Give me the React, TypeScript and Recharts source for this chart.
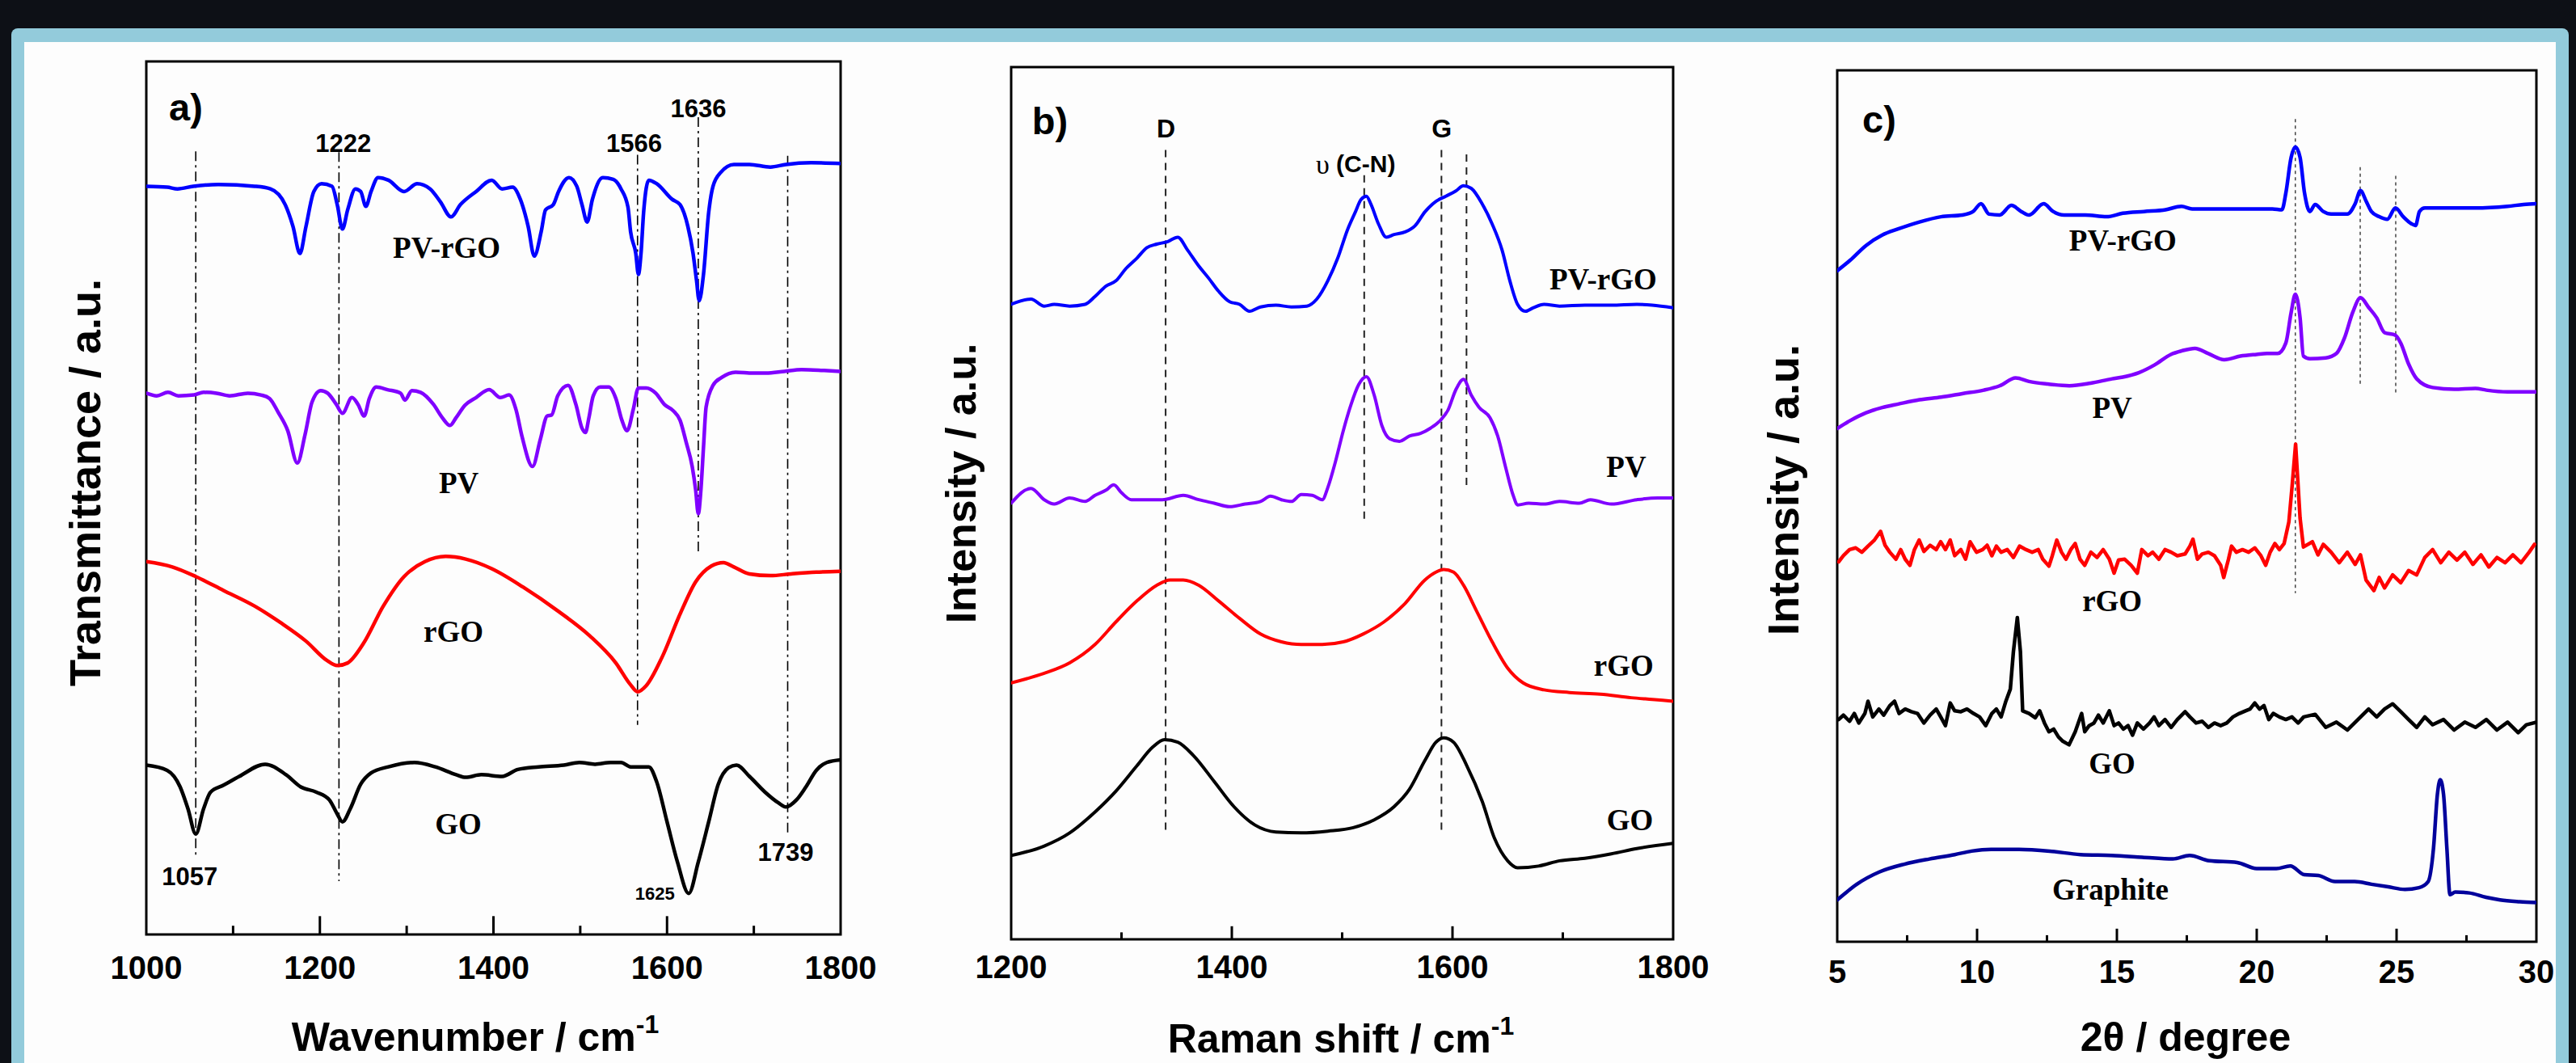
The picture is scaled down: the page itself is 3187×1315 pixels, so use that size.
import React from 'react';
import { ComposedChart, Line, XAxis, YAxis, ReferenceLine, ReferenceArea, Scatter } from 'recharts';

type P = [number, number];

const SANS = "'Liberation Sans', Arial, Helvetica, sans-serif";
const SERIF = "'Liberation Serif', 'Times New Roman', serif";

// ---------------- Panel a : FTIR (wavenumber, transmittance a.u.) ----------------
const ftirTicks = [1000, 1200, 1400, 1600, 1800];
const ftirMinor = [1100, 1300, 1500, 1700];
const ftirPvRgo: P[] = [[1000,85.7],[1024,85.6],[1036,85.4],[1054,85.7],[1083,85.9],[1125,85.7],[1143,85.4],[1160,83.6],[1169,81.1],[1177,78.0],[1184,81.1],[1193,85.1],[1202,86.0],[1214,85.7],[1220,83.6],[1226,80.8],[1232,83.0],[1241,85.4],[1247,85.1],[1253,83.4],[1259,85.1],[1267,86.7],[1279,86.4],[1297,85.1],[1312,86.0],[1327,85.4],[1339,83.9],[1351,82.2],[1362,83.6],[1380,85.1],[1398,86.4],[1410,85.4],[1422,85.6],[1431,84.2],[1440,81.1],[1447,77.7],[1455,80.5],[1460,83.0],[1469,83.6],[1475,85.1],[1487,86.7],[1496,85.7],[1502,83.6],[1508,81.6],[1514,84.2],[1526,86.7],[1538,86.5],[1547,85.4],[1555,83.3],[1558,80.5],[1564,78.0],[1567,75.6],[1570,78.0],[1573,82.7],[1579,86.4],[1588,86.0],[1606,84.2],[1615,83.6],[1624,81.1],[1630,78.0],[1634,74.9],[1637,72.6],[1642,75.6],[1648,82.7],[1653,85.7],[1662,87.3],[1677,88.2],[1695,88.2],[1719,87.9],[1737,88.2],[1766,88.4],[1800,88.3]];
const ftirPv: P[] = [[1000,62.0],[1012,61.7],[1025,62.1],[1037,61.7],[1055,61.8],[1066,62.1],[1081,62.0],[1096,61.7],[1117,62.0],[1132,61.8],[1142,61.4],[1152,59.8],[1163,57.7],[1174,54.0],[1183,57.3],[1191,61.0],[1201,62.3],[1209,62.0],[1219,60.7],[1226,59.7],[1237,61.5],[1244,60.7],[1251,59.4],[1257,61.4],[1265,62.7],[1278,62.4],[1293,62.0],[1298,61.2],[1306,62.3],[1316,62.1],[1331,60.7],[1341,59.2],[1350,58.3],[1357,59.2],[1367,60.6],[1380,61.5],[1395,62.4],[1408,61.5],[1418,61.8],[1426,60.1],[1433,57.0],[1445,53.6],[1454,56.7],[1462,59.4],[1467,59.5],[1474,61.7],[1486,62.9],[1495,60.7],[1502,58.0],[1506,57.5],[1510,59.2],[1515,61.7],[1523,62.7],[1533,62.7],[1541,61.4],[1548,58.9],[1554,57.7],[1561,60.1],[1567,62.6],[1576,62.6],[1587,62.0],[1597,60.7],[1607,60.0],[1615,58.9],[1622,56.4],[1629,53.6],[1633,50.9],[1636,48.2],[1639,50.9],[1642,55.8],[1645,60.4],[1653,62.9],[1663,63.8],[1679,64.4],[1699,64.3],[1714,64.3],[1735,64.5],[1755,64.7],[1781,64.6],[1800,64.5]];
const ftirRgo: P[] = [[1000,42.7],[1030,42.1],[1057,41.0],[1089,39.4],[1125,37.6],[1155,35.7],[1184,33.6],[1208,31.4],[1220,30.8],[1232,31.1],[1250,33.3],[1273,37.6],[1297,41.0],[1321,42.7],[1345,43.3],[1368,43.0],[1398,41.9],[1434,39.8],[1475,37.0],[1511,34.2],[1541,31.1],[1558,28.6],[1566,27.8],[1576,28.5],[1594,31.7],[1615,36.7],[1633,40.4],[1651,42.2],[1665,42.6],[1677,42.1],[1695,41.3],[1719,41.1],[1743,41.3],[1772,41.5],[1800,41.6]];
const ftirGo: P[] = [[1000,19.4],[1024,18.8],[1039,16.9],[1048,14.4],[1057,11.5],[1066,14.4],[1074,16.3],[1089,17.1],[1107,18.1],[1137,19.5],[1161,18.3],[1178,16.9],[1196,16.3],[1211,15.4],[1220,13.8],[1226,12.9],[1235,14.4],[1247,17.2],[1259,18.5],[1279,19.2],[1309,19.7],[1333,19.2],[1357,18.3],[1368,18.0],[1386,18.3],[1410,18.1],[1428,18.9],[1452,19.2],[1481,19.4],[1499,19.7],[1517,19.5],[1535,19.7],[1547,19.7],[1558,19.2],[1570,19.2],[1579,19.2],[1588,17.5],[1600,12.9],[1612,8.3],[1625,4.7],[1636,8.3],[1648,12.9],[1659,17.2],[1671,19.1],[1680,19.4],[1695,18.1],[1713,16.3],[1728,15.1],[1737,14.6],[1749,15.4],[1760,16.9],[1772,18.8],[1784,19.7],[1800,20.0]];
// guide lines: [x, top, bottom]
const ftirGuides: [number, number, number][] = [[1057,89.7,8.7],[1222,89.6,6.1],[1566,89.3,24.0],[1636,93.6,43.8],[1739,89.2,11.7]];
const ftirLabels = [
  { x: 1045.6, v: 94.8, t: 'a)', kind: 'panel' },
  { x: 1227, v: 90.6, t: '1222', kind: 'num' },
  { x: 1562, v: 90.6, t: '1566', kind: 'num' },
  { x: 1636, v: 94.6, t: '1636', kind: 'num' },
  { x: 1050, v: 6.6, t: '1057', kind: 'num' },
  { x: 1736.6, v: 9.4, t: '1739', kind: 'num' },
  { x: 1586, v: 4.7, t: '1625', kind: 'small' },
  { x: 1346, v: 78.7, t: 'PV-rGO', kind: 'name' },
  { x: 1360, v: 51.7, t: 'PV', kind: 'name' },
  { x: 1354, v: 34.7, t: 'rGO', kind: 'name' },
  { x: 1359.5, v: 12.6, t: 'GO', kind: 'name' },
];

// ---------------- Panel b : Raman ----------------
const ramanTicks = [1200, 1400, 1600, 1800];
const ramanMinor = [1300, 1500, 1700];
const ramanPvRgo: P[] = [[1200,72.8],[1218,73.4],[1230,72.6],[1239,72.8],[1253,72.6],[1267,72.8],[1276,73.7],[1286,74.9],[1295,75.5],[1304,76.9],[1314,78.1],[1323,79.3],[1332,79.7],[1342,80.0],[1351,80.5],[1360,79.0],[1370,77.2],[1379,75.8],[1388,74.3],[1398,73.1],[1407,72.8],[1416,72.0],[1426,72.5],[1440,72.7],[1454,72.5],[1468,72.6],[1477,73.4],[1487,75.5],[1496,78.1],[1505,81.4],[1512,83.4],[1517,84.8],[1522,85.2],[1526,84.3],[1533,82.0],[1540,80.5],[1547,80.8],[1557,81.1],[1566,81.8],[1575,83.4],[1585,84.6],[1594,85.2],[1603,85.8],[1610,86.4],[1617,86.1],[1627,84.3],[1636,82.0],[1645,79.0],[1652,75.5],[1659,72.8],[1666,72.0],[1673,72.4],[1683,72.8],[1697,72.6],[1720,72.7],[1744,72.7],[1767,72.8],[1781,72.7],[1800,72.4]];
const ramanPv: P[] = [[1200,50.0],[1218,51.7],[1230,50.4],[1239,49.9],[1253,50.6],[1267,50.2],[1276,50.9],[1286,51.5],[1293,52.1],[1300,51.2],[1309,50.4],[1323,50.4],[1337,50.4],[1356,50.9],[1370,50.4],[1384,50.0],[1398,49.6],[1412,49.9],[1426,50.2],[1435,50.8],[1445,50.4],[1454,50.2],[1463,51.0],[1473,50.9],[1482,50.4],[1487,51.8],[1494,54.8],[1501,58.3],[1508,61.3],[1515,63.6],[1522,64.5],[1529,62.4],[1536,58.9],[1543,57.4],[1552,57.1],[1561,57.7],[1571,58.0],[1580,58.6],[1589,59.5],[1596,60.7],[1603,63.0],[1610,64.2],[1617,62.4],[1624,61.0],[1634,59.8],[1641,57.7],[1648,54.2],[1655,50.9],[1659,49.8],[1669,50.0],[1683,49.9],[1697,50.2],[1715,50.0],[1725,50.4],[1744,49.9],[1767,50.4],[1786,50.6],[1800,50.6]];
const ramanRgo: P[] = [[1200,29.4],[1230,30.5],[1253,31.7],[1276,33.8],[1295,36.4],[1314,38.8],[1332,40.6],[1344,41.2],[1356,41.2],[1370,40.6],[1388,38.8],[1407,36.8],[1426,35.0],[1445,34.1],[1463,33.8],[1482,33.8],[1501,34.1],[1519,35.0],[1538,36.4],[1557,38.5],[1575,41.2],[1585,42.1],[1592,42.4],[1601,42.1],[1610,40.6],[1622,37.6],[1636,34.1],[1650,31.1],[1664,29.4],[1683,28.6],[1706,28.3],[1734,28.1],[1762,27.7],[1781,27.5],[1800,27.3]];
const ramanGo: P[] = [[1200,9.6],[1230,10.7],[1253,12.2],[1276,14.6],[1295,17.0],[1314,19.9],[1328,22.0],[1339,22.9],[1351,22.6],[1365,21.1],[1384,18.1],[1402,15.2],[1421,13.1],[1440,12.3],[1463,12.2],[1487,12.4],[1510,12.8],[1529,13.7],[1547,15.2],[1561,17.2],[1575,20.5],[1585,22.6],[1592,23.1],[1601,22.6],[1613,19.9],[1627,15.8],[1638,11.6],[1650,9.0],[1659,8.2],[1678,8.4],[1697,9.0],[1720,9.3],[1744,9.8],[1767,10.4],[1800,11.0]];
const ramanGuides: [number, number, number][] = [[1340,90.5,11.9],[1590,90.5,12.2],[1520,87.6,47.7],[1612.7,90.0,51.8]];
const ramanLabels = [
  { x: 1235.2, v: 93.8, t: 'b)', kind: 'panel' },
  { x: 1340.3, v: 93.0, t: 'D', kind: 'peak' },
  { x: 1590.2, v: 93.0, t: 'G', kind: 'peak' },
  { x: 1512.2, v: 88.9, t: 'υ (C-N)', kind: 'cn' },
  { x: 1736.5, v: 75.7, t: 'PV-rGO', kind: 'name' },
  { x: 1757.5, v: 54.2, t: 'PV', kind: 'name' },
  { x: 1755.2, v: 31.4, t: 'rGO', kind: 'name' },
  { x: 1760.8, v: 13.7, t: 'GO', kind: 'name' },
];

// ---------------- Panel c : XRD ----------------
const xrdTicks = [5, 10, 15, 20, 25, 30];
const xrdMinor = [7.5, 12.5, 17.5, 22.5, 27.5];
const xrdPvRgo: P[] = [[5,77.0],[5.46,78.2],[6.03,79.9],[6.61,81.1],[7.18,81.8],[7.94,82.6],[8.71,83.2],[9.47,83.4],[9.86,83.8],[10.14,84.7],[10.43,83.5],[10.81,83.4],[11.23,84.5],[11.58,83.8],[11.86,83.4],[12.38,84.7],[12.72,83.8],[13.11,83.4],[13.87,83.4],[14.63,83.2],[15.21,83.6],[15.97,83.8],[16.74,84.0],[17.31,84.4],[17.69,84.1],[18.65,84.1],[19.60,84.1],[20.56,84.1],[20.90,84.0],[21.04,85.9],[21.23,90.0],[21.38,91.2],[21.55,90.0],[21.71,85.9],[21.90,83.8],[22.09,84.6],[22.38,83.8],[22.66,83.5],[23.24,83.5],[23.52,84.7],[23.71,86.2],[23.91,85.0],[24.10,83.8],[24.38,83.2],[24.67,82.9],[24.96,84.2],[25.24,83.2],[25.53,82.4],[25.68,82.2],[25.82,83.8],[26.01,84.2],[26.68,84.2],[27.82,84.2],[28.97,84.4],[29.54,84.6],[30,84.7]];
const xrdPv: P[] = [[5,58.9],[5.46,59.8],[6.03,60.7],[6.61,61.3],[7.18,61.7],[7.94,62.2],[8.71,62.5],[9.47,62.9],[10.24,63.3],[10.81,63.8],[11.38,64.7],[11.86,64.3],[12.53,64.0],[13.30,63.8],[14.06,64.1],[14.83,64.6],[15.21,64.8],[15.78,65.3],[16.35,66.2],[16.93,67.4],[17.31,67.8],[17.79,68.1],[18.27,67.5],[18.84,66.8],[19.41,67.2],[19.99,67.4],[20.37,67.5],[20.75,67.5],[21.04,68.7],[21.23,72.2],[21.38,74.3],[21.55,71.6],[21.67,67.2],[21.90,66.9],[22.47,67.0],[22.85,67.5],[23.14,69.3],[23.43,72.2],[23.71,73.9],[24.00,72.8],[24.29,71.6],[24.57,69.9],[24.96,69.6],[25.15,68.7],[25.43,66.3],[25.72,64.6],[26.29,63.6],[27.06,63.4],[27.82,63.5],[28.21,63.3],[28.97,63.1],[30,63.1]];
const xrdRgo: P[] = [[5.05,43.6],[5.22,44.3],[5.44,45.0],[5.66,45.2],[5.88,44.7],[6.10,45.4],[6.33,46.1],[6.55,47.1],[6.71,45.5],[6.88,44.7],[7.10,43.9],[7.27,45.0],[7.43,43.9],[7.60,43.2],[7.76,45.0],[7.93,46.1],[8.10,44.8],[8.32,45.5],[8.54,45.0],[8.70,45.9],[8.87,45.0],[9.04,46.1],[9.20,44.3],[9.42,45.0],[9.59,43.9],[9.75,45.9],[9.98,44.7],[10.20,45.0],[10.36,45.5],[10.53,44.3],[10.69,45.4],[10.86,44.7],[11.08,45.0],[11.30,44.1],[11.52,45.4],[11.75,45.0],[11.97,44.7],[12.19,45.0],[12.35,43.9],[12.57,43.1],[12.69,44.3],[12.85,46.1],[13.02,44.7],[13.18,43.9],[13.35,45.0],[13.51,45.7],[13.68,43.9],[13.85,43.2],[14.07,44.7],[14.29,44.1],[14.51,45.0],[14.73,43.9],[14.90,42.3],[15.06,43.8],[15.28,43.9],[15.51,43.2],[15.73,42.3],[15.89,45.0],[16.11,44.3],[16.28,44.7],[16.50,43.9],[16.72,45.0],[16.94,44.7],[17.16,44.3],[17.44,44.5],[17.61,45.4],[17.72,46.2],[17.88,43.9],[18.05,44.5],[18.27,44.7],[18.49,44.3],[18.71,43.2],[18.82,41.8],[18.99,43.9],[19.10,45.4],[19.27,44.7],[19.49,45.0],[19.71,44.7],[19.93,45.2],[20.15,44.3],[20.32,43.2],[20.48,44.7],[20.65,45.7],[20.81,45.0],[20.98,45.7],[21.15,48.2],[21.26,52.1],[21.39,57.1],[21.55,48.6],[21.67,45.3],[21.99,45.9],[22.19,44.4],[22.38,45.6],[22.66,44.7],[22.95,43.5],[23.24,44.7],[23.52,43.3],[23.71,44.4],[23.91,41.5],[24.19,40.3],[24.38,41.8],[24.57,40.6],[24.86,42.1],[25.15,41.2],[25.43,42.6],[25.72,42.1],[26.01,44.1],[26.29,45.0],[26.58,43.5],[26.87,44.7],[27.16,43.8],[27.44,44.7],[27.73,43.3],[28.02,44.4],[28.30,43.0],[28.59,44.1],[28.88,43.5],[29.16,44.4],[29.45,43.5],[29.74,44.7],[29.93,45.6]];
const xrdGo: P[] = [[5.05,25.5],[5.22,26.0],[5.44,25.3],[5.61,26.2],[5.77,25.1],[5.99,26.2],[6.10,27.6],[6.27,25.8],[6.49,26.7],[6.66,26.0],[6.88,27.1],[7.05,27.6],[7.21,26.2],[7.43,26.7],[7.65,26.4],[7.87,26.2],[8.10,25.1],[8.32,26.0],[8.54,26.7],[8.70,25.8],[8.87,24.8],[9.04,27.4],[9.20,26.5],[9.42,26.4],[9.64,26.7],[9.87,26.2],[10.09,25.8],[10.31,24.8],[10.53,26.2],[10.69,26.7],[10.86,25.8],[11.03,27.6],[11.19,29.0],[11.30,33.3],[11.44,37.2],[11.55,33.3],[11.63,26.5],[11.86,26.2],[12.08,25.7],[12.24,26.5],[12.41,25.1],[12.57,24.1],[12.74,24.4],[12.91,23.5],[13.07,23.0],[13.29,22.6],[13.51,24.1],[13.74,26.2],[13.85,24.1],[14.01,24.8],[14.18,25.1],[14.34,26.0],[14.51,25.1],[14.73,26.5],[14.90,24.8],[15.06,25.1],[15.23,24.4],[15.40,24.8],[15.56,23.7],[15.73,25.1],[15.95,24.4],[16.17,25.1],[16.33,25.8],[16.50,24.8],[16.72,25.5],[16.94,24.6],[17.16,25.5],[17.44,26.4],[17.61,25.8],[17.83,25.1],[18.05,25.3],[18.27,24.6],[18.49,25.1],[18.71,24.8],[18.93,25.1],[19.15,25.8],[19.38,26.2],[19.60,26.5],[19.76,26.7],[19.93,27.4],[20.10,26.7],[20.26,27.1],[20.43,25.5],[20.59,26.2],[20.81,25.8],[21.04,25.5],[21.26,25.8],[21.48,25.1],[21.68,25.8],[22.09,26.1],[22.47,24.6],[22.85,25.2],[23.24,24.3],[23.62,25.5],[24.00,26.7],[24.29,25.8],[24.57,26.7],[24.86,27.3],[25.15,26.4],[25.43,25.5],[25.72,24.6],[26.01,25.8],[26.29,24.9],[26.68,25.5],[27.06,24.3],[27.44,25.2],[27.82,24.6],[28.21,25.5],[28.59,24.3],[28.97,25.2],[29.35,24.0],[29.64,24.9],[30,25.2]];
const xrdGraphite: P[] = [[5,4.8],[5.7,6.6],[6.5,8.0],[7.4,8.9],[8.3,9.5],[9.2,10.0],[9.8,10.4],[10.5,10.6],[11.5,10.6],[12.6,10.4],[13.7,10.0],[14.8,9.9],[15.9,9.7],[17.0,9.5],[17.6,9.9],[18.3,9.3],[19.3,9.1],[20.0,8.4],[20.7,8.4],[21.2,8.7],[21.7,7.7],[22.2,7.6],[22.8,6.9],[23.5,6.9],[24.1,6.6],[24.7,6.3],[25.3,6.0],[25.8,6.2],[26.13,6.9],[26.32,10.7],[26.46,16.9],[26.56,18.6],[26.68,16.9],[26.80,10.7],[26.91,5.4],[27.1,5.7],[27.6,5.6],[28.2,5.1],[28.7,4.8],[29.4,4.6],[30,4.5]];
const xrdGuides: [number, number, number][] = [[21.38,94.4,40.0],[23.7,88.9,63.8],[24.97,87.9,62.9]];
const xrdLabels = [
  { x: 6.5, v: 94.4, t: 'c)', kind: 'panel' },
  { x: 15.21, v: 80.5, t: 'PV-rGO', kind: 'name' },
  { x: 14.83, v: 61.3, t: 'PV', kind: 'name' },
  { x: 14.83, v: 39.1, t: 'rGO', kind: 'name' },
  { x: 14.83, v: 20.5, t: 'GO', kind: 'name' },
  { x: 14.77, v: 6.0, t: 'Graphite', kind: 'name' },
];

const toObj = (a: P[]) => a.map(([x, v]) => ({ x, v }));

const LABEL_STYLE: Record<string, { f: string; s: number }> = {
  panel: { f: SANS, s: 47 },
  num: { f: SANS, s: 31 },
  small: { f: SANS, s: 22 },
  name: { f: SERIF, s: 37 },
  peak: { f: SANS, s: 32 },
  cn: { f: SANS, s: 30 },
};

const LabelShape = (props: any) => {
  const { cx, cy, payload } = props;
  if (cx == null || cy == null || !payload) return <g />;
  const st = LABEL_STYLE[payload.kind] || LABEL_STYLE.num;
  if (payload.kind === 'cn') {
    return (
      <text x={cx} y={cy} textAnchor="middle" dominantBaseline="central" fontFamily={SANS} fontSize={st.s} fontWeight="bold" fill="#000">
        <tspan fontFamily={SERIF} fontWeight="normal" fontSize={st.s + 4}>υ</tspan> (C-N)
      </text>
    );
  }
  return (
    <text x={cx} y={cy} textAnchor="middle" dominantBaseline="central" fontFamily={st.f} fontSize={st.s} fontWeight="bold" fill="#000">
      {payload.t}
    </text>
  );
};

type Series = { data: P[]; color: string; width: number; curve: 'monotone' | 'linear' };
type PanelCfg = {
  fx: number; fy: number; fw: number; fh: number;
  domain: [number, number]; ticks: number[]; minor: number[];
  majorLen: number; minorLen: number; tickMargin: number;
  series: Series[]; guides: [number, number, number][];
  guideStyle: { stroke: string; dash: string; width: number };
  labels: { x: number; v: number; t: string; kind: string }[];
};

const panelA: PanelCfg = {
  fx: 181, fy: 76, fw: 859, fh: 1080, domain: [1000, 1800], ticks: ftirTicks, minor: ftirMinor,
  majorLen: 2.1, minorLen: 1.0, tickMargin: 27,
  series: [
    { data: ftirPvRgo, color: '#0000ff', width: 4.5, curve: 'monotone' },
    { data: ftirPv, color: '#8000ff', width: 4.5, curve: 'monotone' },
    { data: ftirRgo, color: '#ff0000', width: 4.5, curve: 'monotone' },
    { data: ftirGo, color: '#000000', width: 4.5, curve: 'monotone' },
  ],
  guides: ftirGuides, guideStyle: { stroke: '#000', dash: '12 5 3 5', width: 1.6 },
  labels: ftirLabels,
};
const panelB: PanelCfg = {
  fx: 1251, fy: 83, fw: 819, fh: 1079, domain: [1200, 1800], ticks: ramanTicks, minor: ramanMinor,
  majorLen: 1.5, minorLen: 0.8, tickMargin: 20,
  series: [
    { data: ramanPvRgo, color: '#0000ff', width: 4, curve: 'monotone' },
    { data: ramanPv, color: '#8000ff', width: 4, curve: 'monotone' },
    { data: ramanRgo, color: '#ff0000', width: 4, curve: 'monotone' },
    { data: ramanGo, color: '#000000', width: 4, curve: 'monotone' },
  ],
  guides: ramanGuides, guideStyle: { stroke: '#222', dash: '9 7', width: 2 },
  labels: ramanLabels,
};
const panelC: PanelCfg = {
  fx: 2273, fy: 87, fw: 865, fh: 1078, domain: [5, 30], ticks: xrdTicks, minor: xrdMinor,
  majorLen: 1.5, minorLen: 0.75, tickMargin: 23,
  series: [
    { data: xrdPvRgo, color: '#0000ff', width: 4.5, curve: 'monotone' },
    { data: xrdPv, color: '#8000ff', width: 4.5, curve: 'monotone' },
    { data: xrdRgo, color: '#ff0000', width: 4.5, curve: 'linear' },
    { data: xrdGo, color: '#000000', width: 4.5, curve: 'linear' },
    { data: xrdGraphite, color: '#00009c', width: 4.5, curve: 'monotone' },
  ],
  guides: xrdGuides, guideStyle: { stroke: '#444', dash: '4 4', width: 1.5 },
  labels: xrdLabels,
};

function Panel({ cfg }: { cfg: PanelCfg }) {
  const mL = 100, mR = 100, mT = 60, axH = 100;
  const innerTicks = cfg.ticks.filter((t) => t > cfg.domain[0] && t < cfg.domain[1]);
  return (
    <div style={{ position: 'absolute', left: cfg.fx - mL, top: cfg.fy - mT }}>
      <ComposedChart width={cfg.fw + mL + mR} height={cfg.fh + mT + axH} margin={{ top: mT, right: mR, bottom: 0, left: mL }}>
        <XAxis
          dataKey="x" type="number" domain={cfg.domain} ticks={cfg.ticks} interval={0} allowDataOverflow
          axisLine={false} tickLine={false} tickSize={0} tickMargin={cfg.tickMargin} height={axH}
          tick={{ fontSize: 40, fontWeight: 700, fill: '#000', fontFamily: SANS }}
        />
        <YAxis dataKey="v" type="number" domain={[0, 100]} hide allowDataOverflow />
        {cfg.guides.map(([x, y1, y2], i) => (
          <ReferenceLine key={'g' + i} segment={[{ x, y: y1 }, { x, y: y2 }]} stroke={cfg.guideStyle.stroke}
            strokeWidth={cfg.guideStyle.width} strokeDasharray={cfg.guideStyle.dash} ifOverflow="visible" />
        ))}
        {cfg.series.map((s, i) => (
          <Line key={'s' + i} data={toObj(s.data)} dataKey="v" type={s.curve} stroke={s.color} strokeWidth={s.width}
            dot={false} activeDot={false} isAnimationActive={false} strokeLinejoin="round" strokeLinecap="round" />
        ))}
        {innerTicks.map((t) => (
          <ReferenceLine key={'M' + t} segment={[{ x: t, y: 0 }, { x: t, y: cfg.majorLen }]} stroke="#000" strokeWidth={3} ifOverflow="visible" />
        ))}
        {cfg.minor.map((t) => (
          <ReferenceLine key={'m' + t} segment={[{ x: t, y: 0 }, { x: t, y: cfg.minorLen }]} stroke="#000" strokeWidth={3} ifOverflow="visible" />
        ))}
        <ReferenceArea x1={cfg.domain[0]} x2={cfg.domain[1]} y1={0} y2={100} fill="none" fillOpacity={0}
          stroke="#000" strokeWidth={3} ifOverflow="visible" />
        <Scatter data={cfg.labels} dataKey="v" shape={LabelShape} isAnimationActive={false} legendType="none" />
      </ComposedChart>
    </div>
  );
}

export default function App() {
  return (
    <div style={{ position: 'absolute', left: 0, top: 0, width: 3187, height: 1315, background: '#0d1016', overflow: 'hidden' }}>
      <div style={{ position: 'absolute', left: 14, top: 35, width: 3164, height: 1320, background: '#93cbdb', borderRadius: 8 }} />
      <div style={{ position: 'absolute', left: 30, top: 52, width: 3132, height: 1300, background: '#fdfdfd' }} />
      <Panel cfg={panelA} />
      <Panel cfg={panelB} />
      <Panel cfg={panelC} />
      <svg width={3187} height={1315} style={{ position: 'absolute', left: 0, top: 0, pointerEvents: 'none' }}>
        <g fontFamily={SANS} fontWeight="bold" fill="#000">
          <text x={588} y={1300} textAnchor="middle" fontSize={50}>
            Wavenumber / cm<tspan dy={-22} fontSize={32}>-1</tspan>
          </text>
          <text x={1659} y={1302} textAnchor="middle" fontSize={50}>
            Raman shift / cm<tspan dy={-22} fontSize={32}>-1</tspan>
          </text>
          <text x={2704} y={1300} textAnchor="middle" fontSize={50}>2θ / degree</text>
          <text transform="translate(124,597) rotate(-90)" textAnchor="middle" fontSize={54}>Transmittance / a.u.</text>
          <text transform="translate(1207,598) rotate(-90)" textAnchor="middle" fontSize={52}>Intensity / a.u.</text>
          <text transform="translate(2225,606) rotate(-90)" textAnchor="middle" fontSize={54}>Intensity / a.u.</text>
        </g>
      </svg>
    </div>
  );
}
